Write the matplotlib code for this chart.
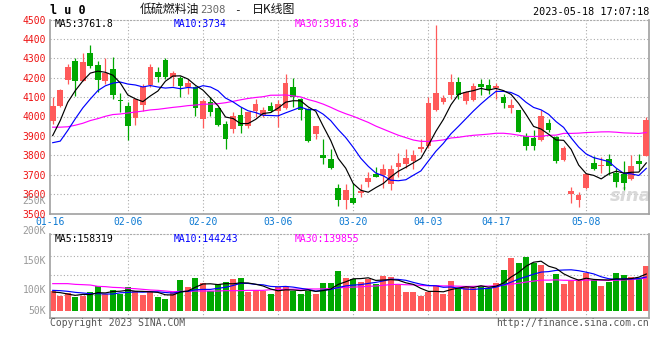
import numpy as np
import matplotlib
matplotlib.use("Agg")
import matplotlib.pyplot as plt
import matplotlib.transforms as mtransforms

# ---------------- data ----------------
opens = [3979, 4056, 4189, 4286, 4184, 4327, 4266, 4184, 4245, 4086,
         4056, 3993, 4061, 4162, 4230, 4289, 4204, 4201, 4150, 4153,
         3986, 4076, 4042, 3962, 3936, 4008, 3950, 4028, 4008, 4054,
         4030, 4042, 4153, 4088, 4039, 3911, 3800, 3783, 3633, 3570,
         3578, 3607, 3662, 3703, 3698, 3650, 3740, 3754, 3771, 3832,
         3846, 4034, 4076, 4112, 4179, 4078, 4085, 4167, 4163, 4146,
         4102, 4042, 4035, 3902, 3890, 3880, 3965, 3894, 3774, 3600,
         3570, 3633, 3761, 3744, 3783, 3711, 3703, 3677, 3769, 3796]
highs = [4102, 4140, 4272, 4300, 4329, 4371, 4286, 4303, 4306, 4122,
         4073, 4090, 4170, 4269, 4255, 4303, 4235, 4209, 4192, 4158,
         4090, 4098, 4051, 3979, 4025, 4047, 4022, 4088, 4051, 4073,
         4087, 4221, 4196, 4095, 4044, 3953, 3885, 3834, 3651, 3651,
         3655, 3651, 3715, 3740, 3754, 3749, 3812, 3834, 3829, 3885,
         4098, 4474, 4112, 4218, 4204, 4133, 4172, 4192, 4192, 4172,
         4116, 4090, 4035, 3914, 3931, 4034, 3988, 3902, 3846, 3638,
         3612, 3709, 3795, 3791, 3805, 3737, 3769, 3803, 3805, 3999]
lows = [3959, 4047, 4170, 4107, 4183, 4252, 4124, 4167, 4092, 4025,
        3880, 3958, 4030, 4150, 4180, 4192, 4158, 4102, 4115, 4005,
        3940, 4001, 3950, 3834, 3914, 3914, 3940, 3995, 4000, 4022,
        3948, 4039, 4047, 3982, 3868, 3885, 3754, 3728, 3541, 3522,
        3547, 3587, 3638, 3686, 3629, 3621, 3689, 3737, 3727, 3817,
        3839, 4030, 4064, 4090, 4090, 4065, 4078, 4110, 4115, 4090,
        4042, 4017, 3919, 3826, 3826, 3872, 3919, 3761, 3769, 3556,
        3535, 3624, 3723, 3710, 3698, 3638, 3621, 3675, 3723, 3795]
closes = [4056, 4138, 4255, 4184, 4281, 4260, 4189, 4226, 4109, 4078,
          3953, 4090, 4153, 4257, 4204, 4206, 4223, 4158, 4175, 4042,
          4081, 4022, 3958, 3883, 4005, 3950, 4022, 4065, 4035, 4030,
          4064, 4175, 4102, 4034, 3873, 3953, 3788, 3735, 3570, 3621,
          3556, 3617, 3684, 3689, 3728, 3728, 3761, 3786, 3803, 3843,
          4068, 4119, 4093, 4179, 4112, 4125, 4158, 4150, 4136, 4155,
          4068, 4061, 3919, 3848, 3848, 4000, 3928, 3771, 3839, 3615,
          3595, 3706, 3727, 3749, 3745, 3663, 3658, 3747, 3754, 3982]
# volume in thousands (K)
volumes = [98.9, 90.0, 95.6, 88.3, 90.6, 96.7, 106.7, 93.3, 100.0, 93.3,
           105.0, 98.3, 91.7, 96.7, 88.3, 85.0, 96.7, 116.7, 105.0, 120.0,
           111.7, 98.3, 110.0, 113.3, 118.3, 120.0, 96.7, 100.0, 98.3, 93.3,
           105.0, 105.0, 98.3, 93.3, 98.3, 93.3, 111.7, 111.7, 131.7, 120.0,
           118.3, 113.3, 118.3, 110.0, 123.3, 121.7, 108.3, 96.7, 96.7, 90.0,
           96.7, 108.3, 93.3, 115.0, 103.3, 106.7, 103.3, 106.7, 103.3, 111.7,
           133.3, 153.3, 145.0, 155.0, 145.0, 141.7, 111.7, 126.7, 110.0, 115.0,
           118.3, 128.3, 116.7, 106.7, 113.3, 128.3, 125.0, 121.7, 118.3, 140.0]

# moving-average values before a full window exists
ma5_head = [3902, 3979, 4073, 4133]
ma10_head = [3865, 3873, 3928, 3988, 4044, 4090, 4133, 4158, 4172]
ma30_head = [3945, 3945, 3947, 3955, 3965, 3979, 3989, 4001, 4010, 4013,
             4018, 4023, 4028, 4034, 4037, 4042, 4047, 4051, 4056, 4059,
             4063, 4064, 4066, 4071, 4078, 4086, 4093, 4098, 4102]
vma5_head = [96.7, 95.6, 93.3, 91.1]
vma10_head = [99.4, 98.9, 97.8, 96.1, 95.0, 93.9, 93.9, 93.3, 93.3]
vma30_head = [110.6, 110.6, 110.6, 109.4, 108.9, 108.3, 106.1, 105.6, 104.4, 103.9,
              102.8, 102.2, 101.1, 100.0, 99.4, 98.3, 97.2, 97.8, 97.8, 98.3,
              98.3, 98.3, 98.3, 98.9, 98.9, 98.9, 99.4, 99.4, 99.4]

date_labels = ["01-16", "02-06", "02-20", "03-06", "03-20", "04-03", "04-17", "05-08"]
date_index = [0, 10, 20, 30, 40, 50, 59, 71]
price_ticks = [4500, 4400, 4300, 4200, 4100, 4000, 3900, 3800, 3700, 3600, 3500]

title_cn = "低硫燃料油"
title_code = "2308"
title_rest = "日K线图"
symbol = "l u 0"
timestamp = "2023-05-18 17:07:18"
ma_price_text = ["MA5:3761.8", "MA10:3734", "MA30:3916.8"]
ma_vol_text = ["MA5:158319", "MA10:144243", "MA30:139855"]
vol_label_text = ["250K", "200K", "150K", "100K", "50K"]

# ---------------- helpers ----------------
def moving_average(values, n, head):
    out = []
    for i in range(len(values)):
        if i < n - 1:
            out.append(head[i])
        else:
            out.append(float(np.mean(values[i - n + 1:i + 1])))
    return out

W, H = 660, 360
RED = "#ff5a5a"
GREEN = "#00a800"
GRID = "#aaaaaa"
FRAME = "#a0a0a0"
MONO = "DejaVu Sans Mono"
MA_COLORS = ["black", "#0000ff", "#ff00ff"]

def fx(px):
    return px / W

def fy(py):
    return 1 - py / H

n = len(closes)
x = np.arange(n)
up = [c >= o for o, c in zip(opens, closes)]
colors = [RED if u else GREEN for u in up]

fig = plt.figure(figsize=(W / 100, H / 100), dpi=100)
fig.patch.set_facecolor("white")

# axes geometry in pixels
L, R = 50, 649
PT, PB = 19.5, 213.5
VT, VB = 234.3, 318
axp = fig.add_axes([fx(L), fy(PB), fx(R - L), (PB - PT) / H])
axv = fig.add_axes([fx(L), fy(VB), fx(R - L), (VB - VT) / H])

xlim = (-0.36, n - 1 + 0.36)

# ---------------- price panel ----------------
axp.set_xlim(*xlim)
axp.set_ylim(3500, 4500)
for p in price_ticks[1:-1]:
    axp.axhline(p, color=GRID, lw=0.8, ls=(0, (1, 2)), zorder=0)
for di in date_index[1:]:
    axp.axvline(di, color=GRID, lw=0.8, ls=(0, (1, 2)), zorder=0)

axp.vlines(x, lows, highs, colors=colors, lw=0.9, zorder=2)
bottoms = [min(o, c) for o, c in zip(opens, closes)]
heights = [max(abs(c - o), 4) for o, c in zip(opens, closes)]
axp.bar(x, heights, bottom=bottoms, width=0.75, color=colors, lw=0, zorder=3)

ma5 = moving_average(closes, 5, ma5_head)
ma10 = moving_average(closes, 10, ma10_head)
ma30 = moving_average(closes, 30, ma30_head)
for series, col in zip([ma30, ma10, ma5], MA_COLORS[::-1]):
    axp.plot(x, series, color=col, lw=0.85, zorder=4)

axp.set_yticks(price_ticks)
axp.set_yticklabels([str(p) for p in price_ticks], color="#ee1111",
                    fontfamily=MONO, fontsize=7)
off = mtransforms.ScaledTranslation(0, 3 / 100, fig.dpi_scale_trans)
for lab in axp.get_yticklabels():
    lab.set_transform(lab.get_transform() + off)
tick_pos = [xlim[0]] + date_index[1:]
axp.set_xticks(tick_pos)
axp.set_xticklabels(date_labels, color="#0a78d2", fontfamily=MONO, fontsize=7)
axp.tick_params(axis="both", length=0)
axp.tick_params(axis="y", pad=3)
axp.tick_params(axis="x", pad=2.5)
for side in ["left", "right", "bottom"]:
    axp.spines[side].set_color(FRAME)
    axp.spines[side].set_linewidth(1.2)
axp.spines["top"].set_color(GRID)
axp.spines["top"].set_linewidth(0.8)
axp.spines["top"].set_linestyle((0, (1, 2)))

# sina watermark
axp.text(0.97, 0.09, "sina", transform=axp.transAxes, ha="center", va="center",
         fontsize=13, fontweight="bold", style="italic", color="#d9d9d9", zorder=1)

# ---------------- volume panel ----------------
def vol_from_px(py):
    return 100 + (290 - py) / 0.6

axv.set_xlim(*xlim)
vtop, vbot, vfloor = vol_from_px(VT), vol_from_px(VB), vol_from_px(310.7)
axv.set_ylim(vbot, vtop)
for py in [255.7, 275.3, 295.0]:
    axv.axhline(vol_from_px(py), color=GRID, lw=0.8, ls=(0, (1, 2)), zorder=0)
for di in date_index[1:]:
    axv.axvline(di, color=GRID, lw=0.8, ls=(0, (1, 2)), zorder=0)
axv.bar(x, [v - vfloor for v in volumes], bottom=vfloor, width=0.8,
        color=colors, lw=0, zorder=2)
vma5 = moving_average(volumes, 5, vma5_head)
vma10 = moving_average(volumes, 10, vma10_head)
vma30 = moving_average(volumes, 30, vma30_head)
for series, col in zip([vma30, vma10, vma5], MA_COLORS[::-1]):
    axv.plot(x, series, color=col, lw=0.85, zorder=4)
axv.set_xticks([])
axv.set_yticks([])
for side in ["left", "right", "bottom"]:
    axv.spines[side].set_color(FRAME)
    axv.spines[side].set_linewidth(1.2)
axv.spines["top"].set_color(GRID)
axv.spines["top"].set_linewidth(0.8)
axv.spines["top"].set_linestyle((0, (1, 2)))

# volume axis labels
for txt, py in zip(vol_label_text, [200.7, 230.7, 260.7, 290.0, 310.7]):
    fig.text(fx(46), fy(py), txt, ha="right", va="center", color="#999999",
             fontfamily=MONO, fontsize=7)

# ---------------- header / legends / footer ----------------
fig.text(fx(50), fy(11), symbol, ha="left", va="center", fontfamily=MONO,
         fontweight="bold", fontsize=8.5, color="black")
cjk = ["Noto Sans CJK SC", "DejaVu Sans"]
fig.text(fx(140), fy(9), title_cn, ha="left", va="center", family=cjk,
         fontsize=8.6, color="#111111")
fig.text(fx(200), fy(10), title_code, ha="left", va="center", family=MONO,
         fontsize=7.6, color="#666666")
fig.text(fx(237), fy(10), "-", ha="center", va="center", family=MONO,
         fontsize=8, color="#111111")
fig.text(fx(252), fy(9), title_rest, ha="left", va="center", family=cjk,
         fontsize=8.6, color="#111111")
fig.text(fx(649), fy(12), timestamp, ha="right", va="center", family=MONO,
         fontsize=7.3, color="black")

for txt, col, px in zip(ma_price_text, MA_COLORS, [55, 174, 295]):
    fig.text(fx(px), fy(24), txt, ha="left", va="center", family=MONO,
             fontsize=7, color=col)
for txt, col, px in zip(ma_vol_text, MA_COLORS, [55, 174, 295]):
    fig.text(fx(px), fy(239.5), txt, ha="left", va="center", family=MONO,
             fontsize=7, color=col)

fig.text(fx(50), fy(323), "Copyright 2023 SINA.COM", ha="left", va="center",
         family=MONO, fontsize=7, color="#555555")
fig.text(fx(649), fy(323), "http://finance.sina.com.cn", ha="right", va="center",
         family=MONO, fontsize=7, color="#555555")

fig.savefig("out.png", dpi=100, facecolor="white")
